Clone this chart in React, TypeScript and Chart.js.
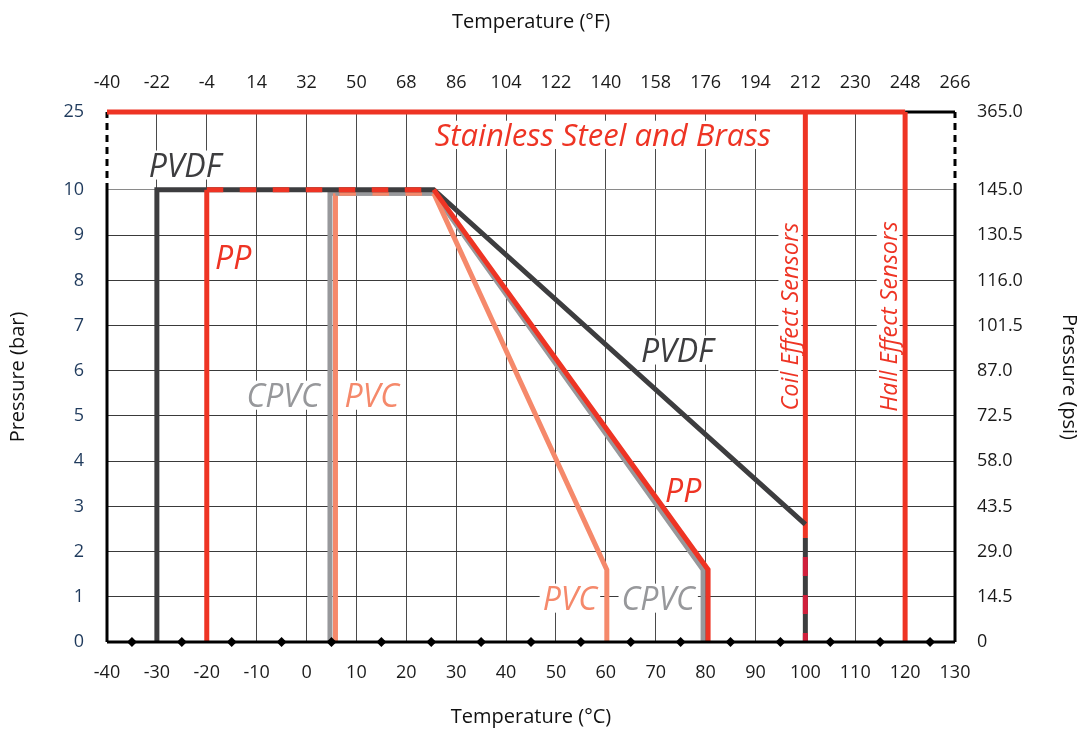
import React, { useEffect, useRef } from 'react';
import { Chart, registerables } from 'chart.js';

Chart.register(...registerables);

// ---------- data ----------
const celsiusTicks = [-40, -30, -20, -10, 0, 10, 20, 30, 40, 50, 60, 70, 80, 90, 100, 110, 120, 130];
const fahrenheitLabels = ['-40', '-22', '-4', '14', '32', '50', '68', '86', '104', '122', '140', '158', '176', '194', '212', '230', '248', '266'];
const barTicks = [0, 1, 2, 3, 4, 5, 6, 7, 8, 9, 10, 25];
const barLabels = ['0', '1', '2', '3', '4', '5', '6', '7', '8', '9', '10', '25'];
const psiLabels = ['0', '14.5', '29.0', '43.5', '58.0', '72.5', '87.0', '101.5', '116.0', '130.5', '145.0', '365.0'];

const pvdfPoints: [number, number][] = [[-30, 0], [-30, 10.07], [25.5, 10.07], [100, 2.6]];
const ppPoints: [number, number][] = [[-20, 0], [-20, 10.07], [25.5, 10.07], [80.5, 1.6], [80.5, 0]];
const cpvcPoints: [number, number][] = [[4.7, 0], [4.7, 9.93], [25.5, 9.93], [79.5, 1.6], [79.5, 0]];
const pvcPoints: [number, number][] = [[5.8, 0], [5.8, 9.93], [25.5, 9.93], [60.2, 1.6], [60.2, 0]];
const pvcTopDashed: [number, number][] = [[5.8, 9.93], [25.5, 9.93]];
const stainlessTop: [number, number][] = [[-40, 25], [120, 25]];
const coilSensor: [number, number][] = [[100, 25], [100, 2.3]];
const coilLower: [number, number][] = [[100, 2.3], [100, 0]];
const hallSensor: [number, number][] = [[120, 25], [120, 0]];
const diamondX = [-35, -25, -15, -5, 5, 15, 25, 35, 45, 55, 65, 75, 85, 95, 105, 115, 125];

const frameLeftSolid: [number, number][] = [[-40, 0], [-40, 10]];
const frameLeftBreak: [number, number][] = [[-40, 10], [-40, 25]];
const frameRightSolid: [number, number][] = [[130, 0], [130, 10]];
const frameRightBreak: [number, number][] = [[130, 10], [130, 25]];
const frameTopRight: [number, number][] = [[120, 25], [130, 25]];
const frameBottom: [number, number][] = [[-40, 0], [130, 0]];

type Label = { text: string; x: number; y: number; color: string; size: number; rotate?: boolean };
const labels: Label[] = [
  { text: 'Stainless Steel and Brass', x: 59.4, y: 20.6, color: '#ee3424', size: 31 },
  { text: 'PVDF', x: -24.4, y: 14.8, color: '#3d3d3f', size: 32 },
  { text: 'PP', x: -14.7, y: 8.5, color: '#ee3424', size: 32 },
  { text: 'CPVC', x: -4.7, y: 5.46, color: '#97989b', size: 32 },
  { text: 'PVC', x: 13.1, y: 5.46, color: '#f5896b', size: 32 },
  { text: 'PVDF', x: 74.3, y: 6.46, color: '#3d3d3f', size: 32 },
  { text: 'PP', x: 75.5, y: 3.36, color: '#ee3424', size: 32 },
  { text: 'PVC', x: 52.8, y: 0.97, color: '#f5896b', size: 32 },
  { text: 'CPVC', x: 70.5, y: 0.97, color: '#97989b', size: 32 },
  { text: 'Coil Effect Sensors', x: 96.9, y: 7.2, color: '#ee3424', size: 23.5, rotate: true },
  { text: 'Hall Effect Sensors', x: 116.6, y: 7.2, color: '#ee3424', size: 23.5, rotate: true },
];

// ---------- layout constants ----------
const BREAK_AT = 10;
const BREAK_RATIO = 0.11504; // compression of the axis above the break
const mapY = (v: number) => (v <= BREAK_AT ? v : BREAK_AT + (v - BREAK_AT) * BREAK_RATIO);
const Y_MAX = mapY(25);
const FONT = '"Open Sans", "Noto Sans", sans-serif';

const RED = '#ee3424';
const DARK = '#3d3d3f';
const GRAY = '#97989b';
const SALMON = '#f5896b';
const CRIMSON = '#d21f3c';

const toPts = (arr: [number, number][]) => arr.map(([x, y]) => ({ x, y: mapY(y) }));

function lineDs(pts: [number, number][], color: string, width: number, order: number, extra: any = {}) {
  return {
    data: toPts(pts),
    showLine: true,
    borderColor: color,
    backgroundColor: color,
    borderWidth: width,
    pointRadius: 0,
    pointHoverRadius: 0,
    clip: false,
    order,
    borderJoinStyle: 'miter',
    borderCapStyle: 'butt',
    tension: 0,
    ...extra,
  };
}

const capH = (size: number) => size * 0.72;

const labelPlugin = {
  id: 'textLabels',
  beforeDatasetsDraw(chart: any) {
    const { ctx, scales } = chart;
    ctx.save();
    ctx.fillStyle = '#ffffff';
    for (const l of labels) {
      ctx.font = `italic ${l.size}px ${FONT}`;
      const w = ctx.measureText(l.text).width;
      const cx = scales.x.getPixelForValue(l.x);
      const cy = scales.y.getPixelForValue(mapY(l.y));
      const h = capH(l.size) + 6;
      ctx.save();
      ctx.translate(cx, cy);
      if (l.rotate) ctx.rotate(-Math.PI / 2);
      ctx.fillRect(-w / 2 - 3, -h / 2, w + 6, h);
      ctx.restore();
    }
    ctx.restore();
  },
  afterDatasetsDraw(chart: any) {
    const { ctx, scales } = chart;
    ctx.save();
    for (const l of labels) {
      ctx.font = `italic ${l.size}px ${FONT}`;
      ctx.fillStyle = l.color;
      ctx.textAlign = 'center';
      ctx.textBaseline = 'alphabetic';
      const cx = scales.x.getPixelForValue(l.x);
      const cy = scales.y.getPixelForValue(mapY(l.y));
      ctx.save();
      ctx.translate(cx, cy);
      if (l.rotate) ctx.rotate(-Math.PI / 2);
      ctx.fillText(l.text, 0, capH(l.size) / 2);
      ctx.restore();
    }
    ctx.restore();
  },
};

export default function App() {
  const ref = useRef<HTMLCanvasElement | null>(null);

  useEffect(() => {
    if (!ref.current) return;
    Chart.defaults.font.family = FONT;
    const dash = 16.5;
    const datasets: any[] = [
      lineDs(frameLeftSolid, '#000', 3, 100),
      lineDs(frameLeftBreak, '#000', 3, 100, { borderDash: [7, 5] }),
      lineDs(frameRightSolid, '#000', 3, 100),
      lineDs(frameRightBreak, '#000', 3, 100, { borderDash: [7, 5] }),
      lineDs(frameTopRight, '#000', 3, 100),
      lineDs(stainlessTop, RED, 5, 50),
      lineDs(hallSensor, RED, 5, 50),
      lineDs(coilSensor, RED, 5, 50),
      lineDs(coilLower, DARK, 5, 49),
      lineDs(coilLower, CRIMSON, 5, 48, { borderDash: [19, 19], borderDashOffset: 19 }),
      lineDs(cpvcPoints, GRAY, 5, 40),
      lineDs(pvcPoints, SALMON, 5, 39, {
        segment: {
          borderColor: (c: any) => (c.p0DataIndex === 1 ? GRAY : SALMON),
        },
      }),
      lineDs(pvcTopDashed, SALMON, 5, 38, { borderDash: [dash, dash], borderDashOffset: 29 }),
      lineDs(pvdfPoints, DARK, 5, 30),
      lineDs(ppPoints, RED, 5, 29, {
        segment: {
          borderDash: (c: any) => (c.p0DataIndex === 1 ? [dash, dash] : undefined),
          borderColor: (c: any) => RED,
        },
      }),
      lineDs(frameBottom, '#000', 3, 5),
      {
        data: diamondX.map((x) => ({ x, y: 0 })),
        showLine: false,
        pointStyle: 'rectRot',
        pointRadius: 5,
        pointHoverRadius: 5,
        pointBackgroundColor: '#000',
        pointBorderColor: '#000',
        pointBorderWidth: 0,
        clip: false,
        order: 1,
      },
    ];

    const tickFont = { family: FONT, size: 18 };
    const titleFont = { family: FONT, size: 20 };

    const chart = new Chart(ref.current, {
      type: 'scatter',
      data: { datasets },
      plugins: [labelPlugin],
      options: {
        animation: false,
        responsive: true,
        maintainAspectRatio: false,
        layout: { padding: 0 },
        plugins: { legend: { display: false }, tooltip: { enabled: false } },
        events: [],
        scales: {
          x: {
            type: 'linear',
            position: 'bottom',
            min: -40,
            max: 130,
            afterFit: (s: any) => { s.height = 89; },
            afterBuildTicks: (s: any) => { s.ticks = celsiusTicks.map((v) => ({ value: v })); },
            ticks: {
              autoSkip: false,
              maxRotation: 0,
              padding: 20,
              color: '#1a1a1a',
              font: tickFont,
              callback: (_v: any, i: number) => String(celsiusTicks[i]),
            },
            grid: {
              drawTicks: false,
              lineWidth: 1,
              color: (c: any) => {
                const v = c.tick ? c.tick.value : 0;
                return v === -40 || v === 130 ? 'rgba(0,0,0,0)' : '#4a4a4a';
              },
            },
            border: { display: false },
            title: { display: true, text: 'Temperature (°C)', font: titleFont, color: '#111', padding: { top: 0, bottom: 2 } },
          },
          x2: {
            type: 'linear',
            position: 'top',
            min: -40,
            max: 130,
            afterFit: (s: any) => { s.height = 112; },
            afterBuildTicks: (s: any) => { s.ticks = celsiusTicks.map((v) => ({ value: v })); },
            ticks: {
              autoSkip: false,
              maxRotation: 0,
              padding: 18,
              color: '#1a1a1a',
              font: tickFont,
              callback: (_v: any, i: number) => fahrenheitLabels[i],
            },
            grid: { display: false, drawTicks: false },
            border: { display: false },
            title: { display: true, text: 'Temperature (°F)', font: titleFont, color: '#111', padding: { top: 10, bottom: 0 } },
          },
          y: {
            type: 'linear',
            position: 'left',
            min: 0,
            max: Y_MAX,
            afterFit: (s: any) => { s.width = 107; },
            afterBuildTicks: (s: any) => { s.ticks = barTicks.map((v) => ({ value: mapY(v) })); },
            ticks: {
              autoSkip: false,
              padding: 23,
              color: '#1f3a5c',
              font: tickFont,
              callback: (_v: any, i: number) => barLabels[i],
            },
            grid: {
              drawTicks: false,
              lineWidth: 1,
              color: (c: any) => {
                const v = c.tick ? c.tick.value : 0;
                if (v < 0.5 || v > 10.5) return 'rgba(0,0,0,0)';
                return Math.abs(v - 10) < 0.01 ? '#8a8a8a' : '#3a3a3a';
              },
            },
            border: { display: false },
            title: { display: true, text: 'Pressure (bar)', font: titleFont, color: '#111', padding: { top: 6, bottom: 0 } },
          },
          y2: {
            type: 'linear',
            position: 'right',
            min: 0,
            max: Y_MAX,
            afterFit: (s: any) => { s.width = 126; },
            afterBuildTicks: (s: any) => { s.ticks = barTicks.map((v) => ({ value: mapY(v) })); },
            ticks: {
              autoSkip: false,
              padding: 22,
              color: '#1a1a1a',
              font: tickFont,
              callback: (_v: any, i: number) => psiLabels[i],
            },
            grid: { display: false, drawTicks: false },
            border: { display: false },
            title: { display: true, text: 'Pressure (psi)', font: titleFont, color: '#111', padding: { top: 0, bottom: 0 } },
          },
        },
      } as any,
    });
    return () => chart.destroy();
  }, []);

  return (
    <div style={{ position: 'absolute', left: 0, top: 0, width: 1081, height: 731, background: '#fff' }}>
      <canvas ref={ref} />
    </div>
  );
}
